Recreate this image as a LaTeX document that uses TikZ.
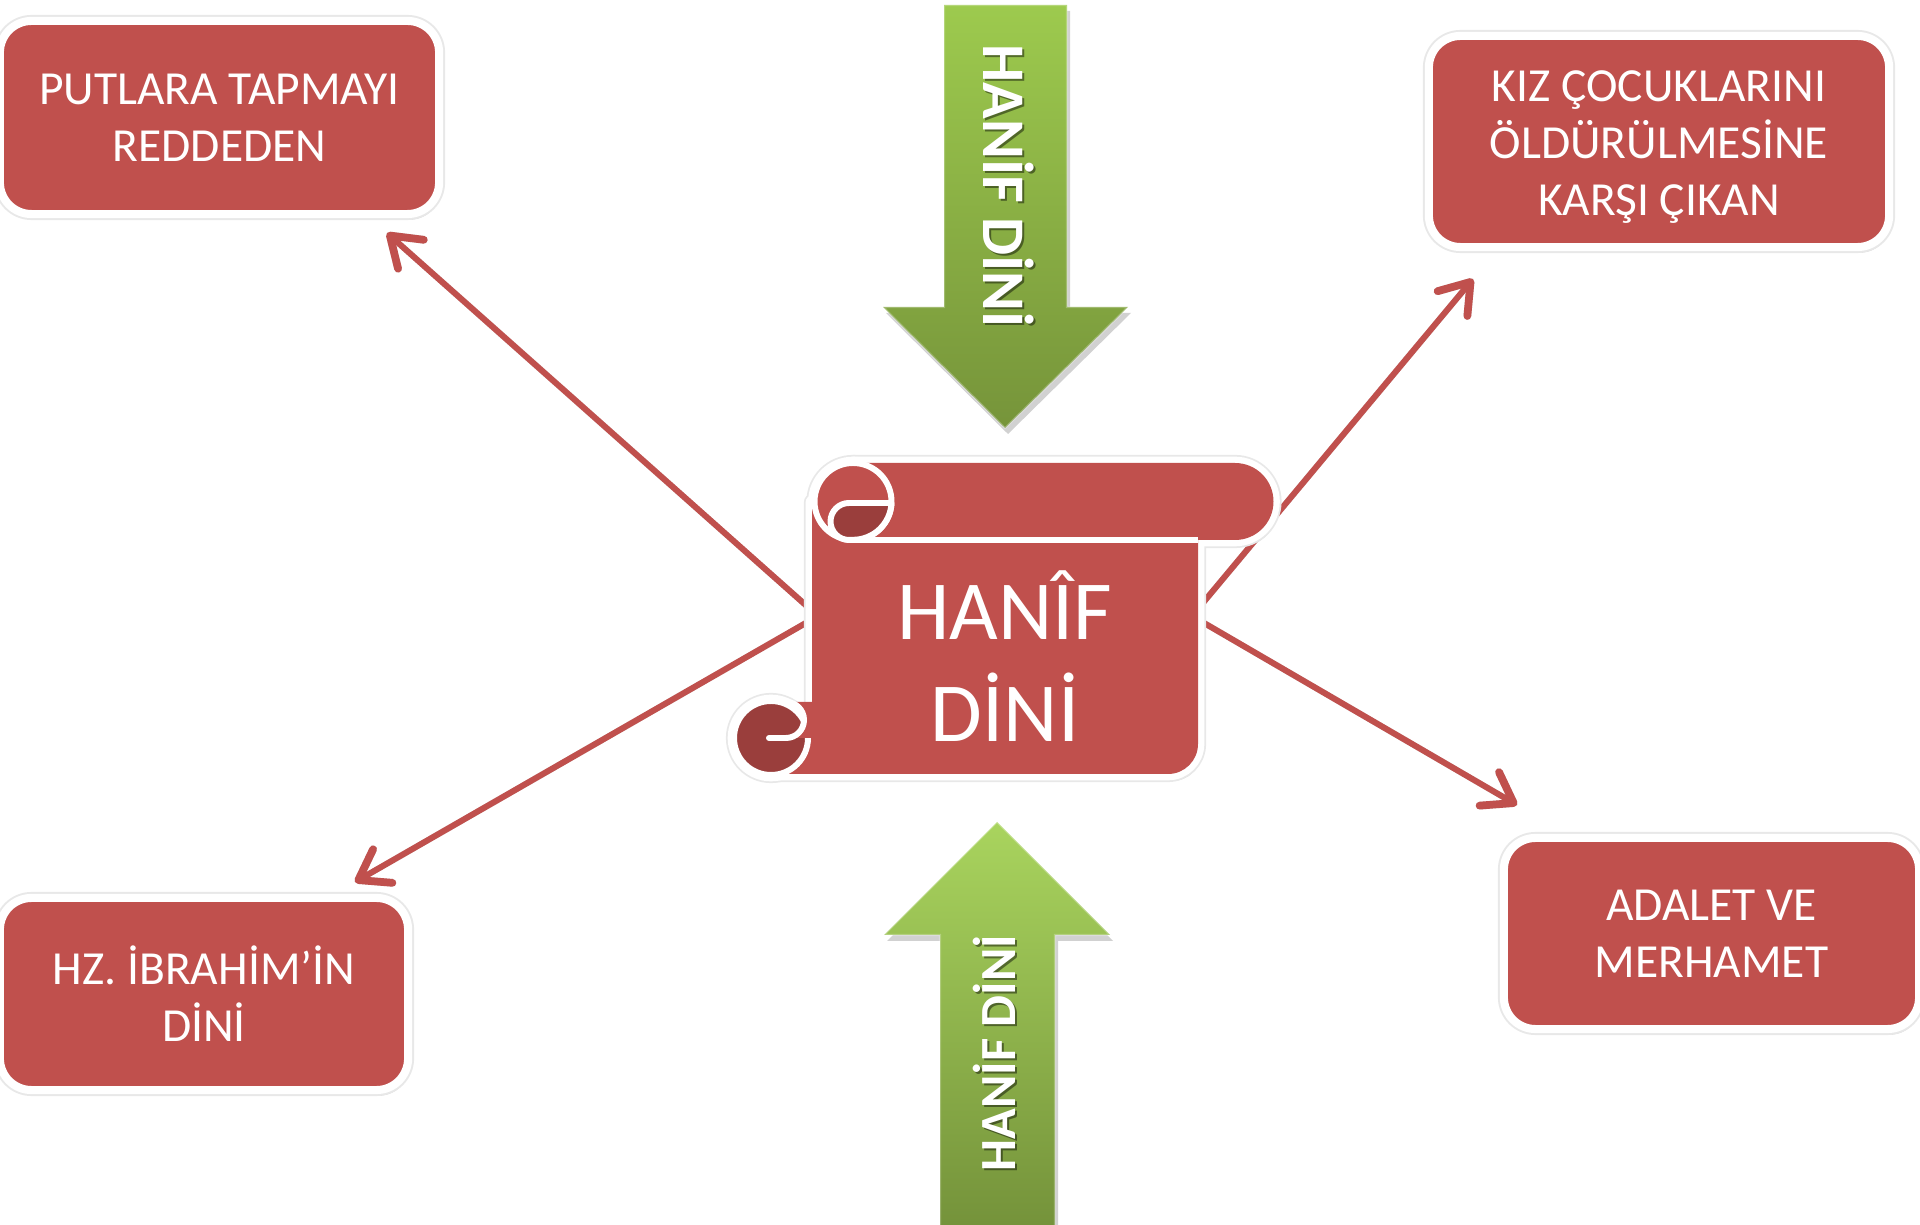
\documentclass[tikz,border=0pt]{standalone}
\usepackage{fontspec}
\setmainfont{Carlito}
\usetikzlibrary{arrows.meta,shadows}
\definecolor{boxred}{HTML}{C0504D}
\definecolor{curldark}{HTML}{9A3E3C}
\definecolor{gtopA}{HTML}{9DCA4E}
\definecolor{gbotA}{HTML}{76943A}
\definecolor{gtopB}{HTML}{A9D45E}
\definecolor{gbotB}{HTML}{74923A}
\begin{document}
\begin{tikzpicture}[x=0.01cm,y=-0.01cm,
  box/.style={draw=white, line width=2.3pt, fill=boxred, rounded corners=9pt,
    text=white, align=center, font=\fontsize{13.5}{16.2}\selectfont,
    drop shadow={shadow xshift=0.6pt, shadow yshift=-1.6pt, opacity=0.35},
    preaction={draw=black!9, line width=3.4pt}},
  link/.style={draw=boxred, line width=1.7pt, line cap=round, line join=round,
    -{Straight Barb[length=8pt,width=11pt,line width=2.2pt,line cap=round,line join=round]}},
  linkshadow/.style={draw=black!15, line width=1.7pt, line cap=round, line join=round,
    -{Straight Barb[length=8pt,width=11pt,line width=2.2pt,line cap=round,line join=round]}},
  arrowtext/.style={text=white, font=\bfseries\fontsize{#1}{#1}\selectfont, anchor=base},
  arrowshadowtext/.style={text=black, opacity=0.45, font=\bfseries\fontsize{#1}{#1}\selectfont, anchor=base},
  scrbody/.style={insert path={(812,502) -- (1198,502) -- (1198,744) arc[start angle=0,end angle=90,radius=30] -- (771,774) -- (771,738) -- (812,738) -- cycle}},
  scrbar/.style={insert path={(853,463) -- (1235,463) arc[start angle=-90,end angle=90,radius=38.5] -- (853,540) -- cycle}},
  scrtop/.style={insert path={(853,501.5) circle[radius=38.5]}},
  scrbot/.style={insert path={(771,738) circle[radius=37]}},
  uparrowpath/.style={insert path={(997,822) -- (1110,935) -- (1055,935) -- (1055,1230) -- (940,1230) -- (940,935) -- (884,935) -- cycle}},
  downarrowpath/.style={insert path={(944,5) -- (1067,5) -- (1067,307) -- (1128,307) -- (1005,428) -- (883,307) -- (944,307) -- cycle}},
]
\useasboundingbox (0,0) rectangle (1920,1225);
\fill[white] (0,0) rectangle (1920,1225);

% boxes
\node[box, minimum width=4.39cm, minimum height=1.93cm] (putlara) at (219.5,117.5) {PUTLARA TAPMAYI\\REDDEDEN};
\node[box, minimum width=4.60cm, minimum height=2.11cm] (kiz) at (1659,141.5) {\rule{0pt}{12pt}KIZ ÇOCUKLARINI\\ÖLDÜRÜLMESİNE\\KARŞI ÇIKAN};
\node[box, minimum width=4.15cm, minimum height=1.91cm] (adalet) at (1711.5,933.5) {ADALET VE\\MERHAMET};
\node[box, minimum width=4.08cm, minimum height=1.92cm] (ibrahim) at (204,994) {HZ. İBRAHİM’İN\\DİNİ};

% scroll shadow
\begin{scope}[shift={(4,7)}]
  \fill[black!17, scrbody];
  \fill[black!17, scrbar];
  \fill[black!17, scrtop];
  \fill[black!17, scrbot];
\end{scope}

% connectors
\coordinate (lsrc) at (818,616);
\coordinate (rsrc) at (1192,616);
\coordinate (tipputlara) at (387,233);
\coordinate (tipibrahim) at (355,882);
\coordinate (tipkiz) at (1473,279);
\coordinate (tipadalet) at (1517,805);
\begin{scope}[shift={(3,5)}]
  \draw[linkshadow] (lsrc) -- (tipputlara);
  \draw[linkshadow] (lsrc) -- (tipibrahim);
  \draw[linkshadow] (rsrc) -- (tipkiz);
  \draw[linkshadow] (rsrc) -- (tipadalet);
\end{scope}
\draw[link] (lsrc) -- (tipputlara);
\draw[link] (lsrc) -- (tipibrahim);
\draw[link] (rsrc) -- (tipkiz);
\draw[link] (rsrc) -- (tipadalet);

% scroll outline pass
\path[draw=black!9, line width=4.6pt, line join=round, scrbody];
\path[draw=black!9, line width=4.6pt, line join=round, scrbar];
\path[draw=black!9, line width=4.6pt, scrtop];
\path[draw=black!9, line width=4.6pt, scrbot];
\path[draw=white, line width=3.6pt, line join=round, scrbody];
\path[draw=white, line width=3.6pt, line join=round, scrbar];
\path[draw=white, line width=3.6pt, scrtop];
\path[draw=white, line width=3.6pt, scrbot];
% fills
\fill[boxred, scrbody];
\fill[boxred, scrbar];
\path[fill=boxred, draw=white, line width=1.7pt, scrtop];
\draw[white, line width=1.7pt] (853,540) -- (1198,540);
\path[fill=curldark, draw=white, line width=1.7pt, line join=round]
  (849,503) -- (891.5,503) arc[start angle=2.5,end angle=90,radius=38.5] -- (849,540)
  arc[start angle=90,end angle=270,radius=18.5] -- cycle;
\path[fill=curldark, draw=white, line width=1.7pt, scrbot];
\fill[boxred] (786,738) arc[start angle=90,end angle=-90,radius=18] -- (813,702) -- (813,738) -- cycle;
\draw[white, line width=1.7pt, line cap=round] (769,738) -- (786,738) arc[start angle=90,end angle=-90,radius=18];

\node[text=white, align=center, font=\fontsize{23.9}{29}\selectfont] (hanif) at (1005,656) {HANÎF\\DİNİ};

% green arrows
\begin{scope}[shift={(3,6)}]
  \fill[black!18, downarrowpath];
  \fill[black!18, uparrowpath];
\end{scope}
\path[top color=gtopA, bottom color=gbotA, downarrowpath];
\path[top color=gtopB, bottom color=gbotB, uparrowpath];
\draw[white, opacity=0.25, line width=0.6pt, downarrowpath];
\draw[white, opacity=0.25, line width=0.6pt, uparrowpath];

\node[arrowshadowtext=17.2, rotate=-90] (topshadow) at (985,188) {HANİF DİNİ};
\node[arrowtext=17.2, rotate=-90] (toptext) at (983,186) {HANİF DİNİ};
\node[arrowshadowtext=14.4, rotate=90] (botshadow) at (1017,1055) {HANİF DİNİ};
\node[arrowtext=14.4, rotate=90] (bottext) at (1015,1053) {HANİF DİNİ};
\end{tikzpicture}
\end{document}
